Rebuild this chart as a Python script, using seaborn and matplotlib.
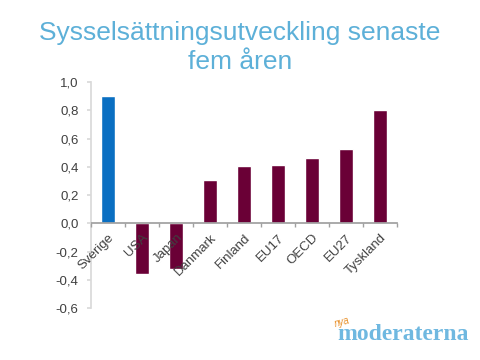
import matplotlib
matplotlib.use("Agg")
import matplotlib.pyplot as plt
import seaborn as sns
import pandas as pd
import numpy as np

categories = ["Sverige", "USA", "Japan", "Danmark", "Finland", "EU17", "OECD", "EU27", "Tyskland"]
values = [0.90, -0.355, -0.32, 0.31, 0.405, 0.415, 0.465, 0.525, 0.80]
yticks = [-0.6, -0.4, -0.2, 0.0, 0.2, 0.4, 0.6, 0.8, 1.0]
title = "Sysselsättningsutveckling senaste\nfem åren"

sns.set_theme(style="white")
plt.rcParams['font.family'] = ['Liberation Sans', 'DejaVu Sans']

df = pd.DataFrame({"land": categories, "v": values})
palette = {c: ("#0a6fc2" if c == "Sverige" else "#6a0036") for c in categories}

fig = plt.figure(figsize=(4.8, 3.6), dpi=100)
ax = fig.add_axes([0.19, 0.144, 0.637, 0.628])
sns.barplot(data=df, x="land", y="v", hue="land", palette=palette, width=0.42,
            legend=False, ax=ax, saturation=1)
ax.set_axisbelow(False)

ax.set_ylim(-0.6, 1.0)
ax.set_xlim(-0.5, len(categories) - 0.5)
ax.set_yticks(yticks)
ax.set_yticklabels([f"{t:.1f}".replace(".", ",").replace("-0,0", "0,0") for t in yticks],
                   fontsize=9.5, color="#404040")
ax.set_xlabel("")
ax.set_ylabel("")

for s in ["top", "right"]:
    ax.spines[s].set_visible(False)
ax.spines["left"].set_color("#d9d9d9")
ax.spines["bottom"].set_position(("data", 0))
ax.spines["bottom"].set_color("#a0a0a0")
ax.tick_params(axis="y", length=3, color="#d9d9d9", left=True, pad=6)

ax.set_xticks(range(len(categories)))
ax.set_xticklabels(categories, rotation=45, ha="right", rotation_mode="anchor",
                   fontsize=9.5, color="#404040")
ax.tick_params(axis="x", which="major", length=0, pad=6, bottom=True)
ax.set_xticks(np.arange(-0.5, len(categories), 1.0), minor=True)
ax.tick_params(axis="x", which="minor", length=3, color="#a0a0a0", bottom=True)

fig.text(0.5, 0.868, title, ha="center", va="center", fontsize=19,
         color="#5db0d8", linespacing=1.25)
fig.text(0.84, 0.072, "moderaterna", ha="center", va="center", fontsize=17,
         color="#6fb8e0", weight="bold", family=["Liberation Serif", "DejaVu Serif"])
fig.text(0.712, 0.105, "nya", ha="center", va="center", fontsize=7,
         color="#e8902a", style="italic", rotation=15)

fig.savefig("out.png", dpi=100, facecolor="white")
